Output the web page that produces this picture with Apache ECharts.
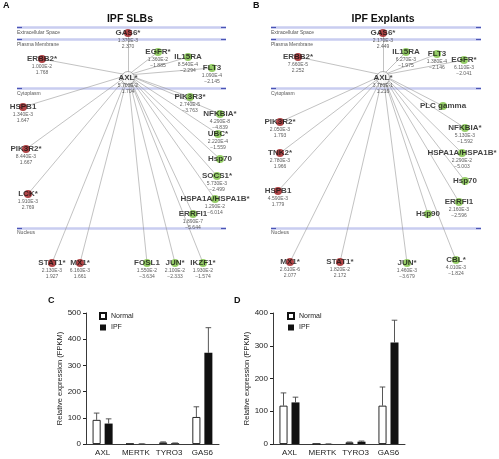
<!DOCTYPE html>
<html><head><meta charset="utf-8">
<script src="https://cdn.jsdelivr.net/npm/echarts@6/dist/echarts.min.js"></script>
<style>html,body{margin:0;padding:0;background:#fff}#c{width:499px;height:459px}</style>
</head><body><div id="c"></div>
<script>
// ---- bar chart data (C: IPF SLBs, D: IPF explants) ----
const barCats = ['AXL','MERTK','TYRO3','GAS6'];
const cNormal = [92, 1, 6, 103];
const cNormalErr = [118, 1.5, 8, 142];
const cIPF = [78, 0.6, 3, 348];
const cIPFErr = [96, 0.8, 4, 444];
const dNormal = [117, 0.3, 5, 117];
const dNormalErr = [156, 0.4, 6, 174];
const dIPF = [127, 0.3, 7, 310];
const dIPFErr = [143, 0.4, 9, 378];

// ---- network A (IPF SLBs) ----
const nodesA = ['GAS6*','ERBB2*','EGFR*','IL15RA','FLT3','AXL*','PIK3R3*','HSPB1','NFKBIA*','UBC*','Hsp70','PIK3R2*','SOCS1*','LCK*','HSPA1A/HSPA1B*','ERRFI1','STAT1*','MX1*','FOSL1','JUN*','IKZF1*'];
const xA = [128,42,158,188,212,128,190,23,220,218,220,26,217,28,215,193,52,80,147,175,203];
const yA = [33,59,52,57,68,78,97,107,114,134,159,149,176,194,199,214,263,263,263,263,263];
const pA = ['1.370E-3','1.000E-2','1.360E-2','8.540E-4','1.090E-4','5.700E-2','2.740E-5','1.340E-3','4.290E-8','2.220E-4','','8.440E-3','5.730E-3','1.910E-3','1.290E-2','1.890E-7','2.130E-3','6.160E-3','1.550E-2','2.100E-2','1.930E-2'];
const fcA = ['2.370','1.768','−1.885','−2.294','−2.145','1.704','−3.763','1.647','−4.839','−1.559','','1.667','−2.499','2.769','−6.014','−5.644','1.927','1.661','−3.634','−2.333','−1.574'];
const regA = [1,1,-1,-1,-1,0,-1,1,-1,-1,-1,1,-1,1,-1,-1,1,1,-1,-1,-1];

// ---- network B (IPF Explants) ----
const nodesB = ['GAS6*','ERBB2*','IL15RA','FLT3','EGFR*','AXL*','PLC gamma','PIK3R2*','NFKBIA*','TNK2*','HSPA1A/HSPA1B*','Hsp70','HSPB1','ERRFI1','Hsp90','MX1*','STAT1*','JUN*','CBL*'];
const xB = [383,298,406,437,464,383,443,280,465,280,462,465,278,459,428,290,340,407,456];
const yB = [33,57,52,54,60,78,106,122,128,153,153,181,191,202,214,262,262,263,260];
const pB = ['2.170E-3','7.660E-5','6.270E-3','1.380E-4','6.110E-3','3.780E-1','','2.050E-3','5.130E-3','2.780E-3','2.290E-2','','4.590E-3','2.160E-3','','2.610E-6','1.820E-2','1.460E-3','4.010E-3'];
const fcB = ['2.449','2.252','−1.975','−2.146','−2.041','1.216','','1.793','−1.592','1.966','−5.003','','1.779','−2.596','','2.077','2.172','−3.679','−1.824'];
const regB = [1,1,-1,-1,-1,0,-1,1,-1,1,-1,-1,1,-1,-1,1,1,-1,-1];

// ---- compartment bands ----
const bandNames = ['Extracellular Space','Plasma Membrane','Cytoplasm','Nucleus'];
const bandLineY = [27,39,88,228];
const bandTextY = [33,45,94,233];

const FONT = 'Liberation Sans, Arial, Helvetica, sans-serif';
const RED = '#9e1719', GREEN = '#7cc242';

function nodeData(names, xs, ys, ps, fcs, regs) {
  return names.map((n, i) => {
    const hasV = ps[i] !== '';
    const col = regs[i] > 0 ? RED : (regs[i] < 0 ? GREEN : '#ffffff');
    return {
      name: n, value: [xs[i], ys[i]],
      symbolSize: regs[i] === 0 ? 13 : 8,
      itemStyle: { color: col, borderColor: regs[i] === 0 ? '#888' : col, borderWidth: regs[i] === 0 ? 0.8 : 0 },
      label: { formatter: hasV ? '{n|' + n + '}\n{v|' + ps[i] + '}\n{v|' + fcs[i] + '}' : '{n|' + n + '}' }
    };
  });
}
function edgeData(names, xs, ys) {
  const hub = names.indexOf('AXL*');
  const out = [];
  names.forEach((n, i) => { if (i !== hub) out.push({ coords: [[xs[hub], ys[hub] - 3], [xs[i], ys[i]]] }); });
  return out;
}
function bandData(x0, x1) {
  const out = [];
  bandLineY.forEach(y => out.push({ coords: [[x0, y], [x1, y]] }));
  return out;
}
function bandEnds(x0, x1) {
  const out = [];
  bandLineY.forEach(y => { out.push({ coords: [[x0, y], [x0 + 5, y]] }); out.push({ coords: [[x1 - 5, y], [x1, y]] }); });
  return out;
}

const labelCommon = {
  show: true, position: 'inside', verticalAlign: 'top', offset: [0, -5], align: 'center',
  fontFamily: FONT,
  rich: {
    n: { fontSize: 8, fontWeight: 'bold', color: '#111', lineHeight: 10, fontFamily: FONT, align: 'center' },
    v: { fontSize: 5, color: '#333', lineHeight: 6, fontFamily: FONT, align: 'center' }
  }
};

function errSeries(name, vals, errs, xIdx, side) {
  return {
    type: 'custom', name: name, xAxisIndex: xIdx, yAxisIndex: xIdx, z: 5,
    data: vals.map((v, i) => [i, v, errs[i]]),
    renderItem: function (params, api) {
      const off = side * 6;
      const b = api.coord([api.value(0), api.value(1)]);
      const t = api.coord([api.value(0), api.value(2)]);
      const x = b[0] + off;
      return { type: 'group', children: [
        { type: 'line', shape: { x1: x, y1: b[1], x2: x, y2: t[1] }, style: { stroke: '#444', lineWidth: 0.9 } },
        { type: 'line', shape: { x1: x - 2.8, y1: t[1], x2: x + 2.8, y2: t[1] }, style: { stroke: '#444', lineWidth: 0.9 } }
      ]};
    }
  };
}

function barAxes(idx, max) {
  return {
    x: { type: 'category', gridIndex: idx, data: barCats,
      axisLine: { lineStyle: { color: '#222', width: 0.9 } },
      axisTick: { alignWithLabel: true, length: 3, lineStyle: { color: '#222' } },
      axisLabel: { interval: 0, fontSize: 8, color: '#222', margin: 5, fontFamily: FONT } },
    y: { type: 'value', gridIndex: idx, min: 0, max: max, interval: 100,
      axisLine: { show: true, lineStyle: { color: '#222', width: 0.9 } },
      axisTick: { show: true, length: 3, lineStyle: { color: '#222' } },
      splitLine: { show: false },
      axisLabel: { fontSize: 8, color: '#222', margin: 5, fontFamily: FONT },
      name: 'Relative expression (FPKM)', nameLocation: 'middle', nameGap: 22,
      nameTextStyle: { fontSize: 7.5, color: '#222', fontFamily: FONT } }
  };
}
const axC = barAxes(1, 500), axD = barAxes(2, 400);

const gtext = (x, y, t, size, weight, color, align) => ({
  type: 'text', x: x, y: y, z: 100,
  style: { text: t, fontSize: size, fontWeight: weight || 'normal', fill: color || '#111', fontFamily: FONT, align: align || 'left', verticalAlign: 'middle' }
});

const graphics = [
  gtext(3, 6, 'A', 9, 'bold'), gtext(253, 6, 'B', 9, 'bold'),
  gtext(48, 301, 'C', 9, 'bold'), gtext(234, 301, 'D', 9, 'bold'),
  gtext(130, 19, 'IPF SLBs', 10.5, 'bold', '#111', 'center'),
  gtext(383, 19, 'IPF Explants', 10.5, 'bold', '#111', 'center')
];
bandNames.forEach((b, i) => {
  graphics.push(gtext(17, bandTextY[i], b, 5, 'normal', '#555'));
  graphics.push(gtext(271, bandTextY[i], b, 5, 'normal', '#555'));
});

const chart = echarts.init(document.getElementById('c'), null, { renderer: 'canvas' });
chart.setOption({
  animation: false,
  backgroundColor: '#fff',
  graphic: graphics,
  grid: [
    { left: 0, top: 0, width: 499, height: 459 },
    { left: 86, top: 313, width: 133, height: 131 },
    { left: 273, top: 313, width: 132, height: 131 }
  ],
  xAxis: [
    { type: 'value', gridIndex: 0, min: 0, max: 499, show: false },
    axC.x, axD.x
  ],
  yAxis: [
    { type: 'value', gridIndex: 0, min: 0, max: 459, inverse: true, show: false },
    axC.y, axD.y
  ],
  legend: [
    { data: ['Normal', 'IPF'], orient: 'vertical', left: 94, top: 307, itemWidth: 6, itemHeight: 6, itemGap: 4, icon: 'rect',
      textStyle: { fontSize: 7, color: '#222', fontFamily: FONT }, selectedMode: false },
    { data: ['Normal', 'IPF'], orient: 'vertical', left: 282, top: 307, itemWidth: 6, itemHeight: 6, itemGap: 4, icon: 'rect',
      textStyle: { fontSize: 7, color: '#222', fontFamily: FONT }, selectedMode: false }
  ],
  series: [
    { type: 'lines', coordinateSystem: 'cartesian2d', xAxisIndex: 0, yAxisIndex: 0, z: 1, silent: true,
      data: bandData(17, 226).concat(bandData(271, 481)), lineStyle: { color: '#c9cdf0', width: 2.5, opacity: 1 } },
    { type: 'lines', coordinateSystem: 'cartesian2d', xAxisIndex: 0, yAxisIndex: 0, z: 1, silent: true,
      data: bandEnds(17, 226).concat(bandEnds(271, 481)), lineStyle: { color: '#4a55b5', width: 1.2, opacity: 1 } },
    { type: 'lines', coordinateSystem: 'cartesian2d', xAxisIndex: 0, yAxisIndex: 0, z: 2, silent: true,
      data: edgeData(nodesA, xA, yA).concat(edgeData(nodesB, xB, yB)), lineStyle: { color: '#999', width: 0.6, opacity: 1 } },
    { type: 'scatter', name: 'netA', xAxisIndex: 0, yAxisIndex: 0, z: 3, symbol: 'circle',
      data: nodeData(nodesA, xA, yA, pA, fcA, regA), label: labelCommon },
    { type: 'scatter', name: 'netB', xAxisIndex: 0, yAxisIndex: 0, z: 3, symbol: 'circle',
      data: nodeData(nodesB, xB, yB, pB, fcB, regB), label: labelCommon },
    { type: 'bar', name: 'Normal', xAxisIndex: 1, yAxisIndex: 1, data: cNormal, barWidth: 8, barGap: '50%',
      itemStyle: { color: '#fff', borderColor: '#111', borderWidth: 0.9 } },
    { type: 'bar', name: 'IPF', xAxisIndex: 1, yAxisIndex: 1, data: cIPF, barWidth: 8, barGap: '50%',
      itemStyle: { color: '#111' } },
    { type: 'bar', name: 'Normal', xAxisIndex: 2, yAxisIndex: 2, data: dNormal, barWidth: 8, barGap: '50%',
      itemStyle: { color: '#fff', borderColor: '#111', borderWidth: 0.9 } },
    { type: 'bar', name: 'IPF', xAxisIndex: 2, yAxisIndex: 2, data: dIPF, barWidth: 8, barGap: '50%',
      itemStyle: { color: '#111' } },
    errSeries('errCN', cNormal, cNormalErr, 1, -1),
    errSeries('errCI', cIPF, cIPFErr, 1, 1),
    errSeries('errDN', dNormal, dNormalErr, 2, -1),
    errSeries('errDI', dIPF, dIPFErr, 2, 1)
  ]
});
</script></body></html>
